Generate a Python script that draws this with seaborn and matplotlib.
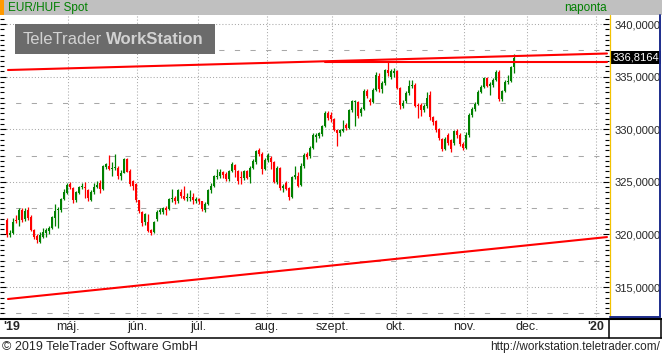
import numpy as np
import matplotlib
matplotlib.use("Agg")
import matplotlib.pyplot as plt
import matplotlib.transforms as mtransforms
from matplotlib.patches import Rectangle
from matplotlib.ticker import MultipleLocator, FuncFormatter
import seaborn as sns

# napi gyertyák EUR/HUF (ápr. - nov. 2019)
open_ = [
    321.35, 319.9, 320.1, 321.35, 321.35, 322.35, 321.5, 322.3, 321.65, 320.45,
    319.85, 319.25, 319.8, 320.1, 320.3, 320.6, 321.6, 322.3, 322.3, 323.4,
    323.95, 324.8, 324.4, 323.25, 323.95, 324.5, 324.5, 324.2, 323.3, 324.0,
    324.5, 324.9, 324.35, 326.4, 326.5, 326.25, 326.3, 326.3, 325.6, 325.85,
    327.15, 326.0, 325.1, 324.8, 323.25, 322.15, 321.2, 321.2, 320.4, 320.25,
    321.45, 322.15, 322.15, 322.55, 322.45, 323.4, 323.45, 323.15, 324.0, 323.7,
    323.45, 323.5, 323.55, 323.15, 323.4, 323.15, 322.3, 322.9, 324.2, 324.65,
    325.45, 325.6, 325.9, 325.75, 325.25, 326.05, 326.6, 326.05, 325.45, 325.35,
    326.0, 325.45, 326.3, 326.9, 328.0, 327.65, 326.2, 327.1, 327.3, 326.85,
    325.0, 326.3, 324.4, 324.9, 324.4, 323.6, 325.45, 325.6, 324.7, 326.5,
    327.6, 327.45, 328.25, 329.3, 329.35, 329.55, 330.3, 331.5, 331.35, 331.0,
    329.9, 329.6, 329.85, 330.4, 330.15, 331.8, 332.6, 332.6, 331.5, 331.95,
    333.6, 332.8, 332.6, 333.75, 335.1, 333.8, 334.35, 335.6, 335.0, 335.3,
    335.5, 333.9, 332.2, 332.65, 333.45, 334.1, 334.25, 332.35, 332.35, 331.8,
    332.2, 333.3, 331.15, 330.8, 330.0, 329.05, 328.1, 329.45, 328.95, 328.65,
    329.8, 329.45, 328.6, 328.2, 329.45, 331.35, 331.9, 332.4, 333.55, 334.0,
    334.85, 334.1, 334.2, 334.7, 335.45, 332.85, 333.6, 334.5, 334.6, 335.9,
]
high = [
    321.55, 320.4, 321.6, 321.8, 322.55, 322.55, 322.5, 322.6, 321.8, 320.5,
    320.0, 320.2, 320.6, 320.6, 320.8, 321.75, 322.9, 322.6, 323.5, 324.3,
    324.9, 325.0, 324.5, 324.1, 324.6, 324.9, 325.0, 324.3, 324.2, 324.9,
    325.05, 325.2, 326.6, 326.8, 327.55, 326.9, 327.6, 326.5, 326.1, 327.3,
    327.3, 326.2, 325.2, 324.9, 323.3, 322.2, 322.0, 321.9, 320.5, 321.3,
    322.3, 322.5, 322.6, 322.7, 323.5, 324.3, 323.7, 324.35, 324.3, 324.6,
    323.9, 324.2, 323.9, 323.6, 323.5, 323.2, 323.1, 324.3, 324.9, 325.65,
    326.2, 326.2, 326.0, 325.9, 326.1, 326.9, 326.7, 326.1, 326.05, 326.1,
    326.1, 326.5, 327.2, 328.05, 328.2, 327.8, 327.3, 327.7, 327.5, 327.0,
    326.5, 326.4, 324.8, 325.1, 324.5, 325.6, 326.5, 325.9, 326.8, 327.7,
    327.8, 328.4, 329.6, 329.6, 329.75, 330.4, 331.7, 331.7, 331.6, 331.1,
    330.0, 330.0, 330.9, 330.6, 331.9, 332.8, 332.8, 332.7, 332.1, 333.8,
    333.8, 333.0, 333.9, 335.4, 335.3, 334.6, 335.7, 336.35, 335.7, 335.8,
    335.6, 334.0, 332.8, 333.6, 334.7, 334.7, 334.4, 332.5, 332.5, 332.4,
    333.5, 333.6, 331.3, 330.9, 330.1, 329.2, 329.3, 329.6, 329.1, 329.9,
    330.0, 329.6, 328.8, 329.7, 331.5, 332.1, 332.6, 333.7, 334.2, 335.0,
    335.0, 334.5, 334.9, 335.6, 335.6, 333.7, 334.7, 335.2, 336.0, 337.15,
]
low = [
    319.75, 319.75, 320.0, 321.1, 320.8, 321.2, 321.3, 321.4, 320.3, 319.6,
    319.2, 319.15, 319.7, 319.8, 320.0, 320.5, 320.8, 320.6, 322.1, 323.3,
    323.8, 324.3, 323.0, 323.1, 323.8, 324.3, 323.5, 323.2, 323.2, 323.8,
    324.4, 323.9, 324.2, 326.2, 326.1, 325.6, 326.1, 325.3, 325.2, 325.8,
    325.9, 324.6, 324.2, 323.1, 322.0, 320.8, 320.9, 320.2, 319.9, 320.1,
    321.3, 321.9, 321.9, 321.8, 322.3, 323.1, 322.9, 323.0, 323.5, 323.3,
    323.2, 323.2, 322.9, 323.0, 322.9, 322.2, 322.1, 322.8, 323.9, 324.5,
    325.3, 325.4, 325.4, 325.1, 325.1, 325.9, 325.5, 324.8, 324.8, 325.2,
    325.3, 324.9, 326.2, 326.7, 327.5, 325.7, 326.1, 326.9, 326.2, 324.9,
    324.8, 324.2, 324.0, 324.2, 323.25, 323.5, 325.3, 324.5, 324.6, 326.3,
    327.2, 327.3, 328.1, 328.8, 329.2, 329.4, 330.2, 330.9, 330.7, 329.8,
    328.45, 329.4, 329.7, 329.9, 330.0, 331.6, 330.3, 331.1, 331.3, 331.8,
    333.0, 332.3, 332.5, 333.6, 333.5, 333.4, 334.2, 335.1, 334.8, 335.0,
    333.8, 331.9, 332.0, 332.5, 333.3, 333.9, 332.1, 331.05, 331.3, 331.6,
    332.0, 330.9, 330.4, 329.7, 329.0, 327.9, 328.0, 328.5, 327.8, 328.5,
    329.2, 328.4, 328.0, 328.1, 329.3, 331.2, 331.7, 332.3, 333.4, 333.9,
    334.0, 333.3, 334.0, 334.6, 332.7, 332.7, 333.5, 334.3, 334.5, 335.35,
]
close_ = [
    319.95, 320.15, 321.2, 321.25, 322.35, 321.4, 322.2, 321.6, 320.4, 319.8,
    319.45, 319.95, 320.25, 320.45, 320.6, 321.65, 322.2, 322.45, 323.4, 324.0,
    324.7, 324.5, 323.25, 324.0, 324.5, 324.6, 324.4, 323.45, 324.0, 324.5,
    324.7, 324.35, 326.5, 326.7, 326.25, 326.3, 326.35, 325.6, 325.85, 327.15,
    325.95, 324.8, 324.65, 323.25, 322.2, 321.05, 321.9, 320.3, 320.1, 321.2,
    322.15, 322.3, 322.55, 322.3, 323.4, 323.45, 323.15, 324.25, 323.7, 323.4,
    323.55, 323.55, 323.25, 323.4, 323.15, 322.4, 322.9, 324.2, 324.65, 325.55,
    325.6, 325.9, 325.65, 325.3, 326.05, 326.7, 326.1, 325.1, 325.35, 326.0,
    325.4, 326.3, 327.0, 327.95, 327.65, 326.2, 327.1, 327.55, 326.85, 325.0,
    326.3, 324.4, 324.6, 324.35, 323.6, 325.45, 325.65, 324.65, 326.5, 327.55,
    327.4, 328.25, 329.45, 329.45, 329.6, 330.3, 331.5, 331.1, 330.95, 329.9,
    329.6, 329.9, 330.0, 330.15, 331.8, 332.65, 332.65, 331.25, 331.95, 333.6,
    333.15, 332.6, 333.75, 335.2, 333.8, 334.4, 335.6, 335.35, 335.5, 335.5,
    333.95, 332.35, 332.5, 333.45, 334.1, 334.25, 332.2, 332.2, 331.8, 332.2,
    333.0, 331.15, 330.65, 329.9, 329.15, 328.1, 329.05, 328.65, 328.1, 329.8,
    329.45, 328.6, 328.2, 329.45, 331.35, 331.9, 332.4, 333.55, 334.0, 334.85,
    334.1, 334.3, 334.7, 335.45, 332.85, 333.6, 334.5, 334.6, 335.9, 336.8164,
]

# hónapok (első kereskedési nap indexe)
month_labels = ["'19", "máj.", "jún.", "júl.", "aug.", "szept.", "okt.", "nov.", "dec.", "'20"]
month_pos = [1.7, 20.33, 43.33, 63.67, 86.67, 108.33, 129.67, 152.33, 173.33, 196.33]

# trendvonalak (kezdő/végpont: index, árfolyam)
upper_x, upper_y = [0.33, 200.0], [335.63, 337.2]
flat_x, flat_y = [106.0, 200.0], [336.36, 336.36]
lower_x, lower_y = [0.33, 200.0], [313.86, 319.75]

title_left = "EUR/HUF Spot"
title_right = "naponta"
footer_left = "© 2019 TeleTrader Software GmbH"
footer_right = "http://workstation.teletrader.com/"

GREEN = "#008000"
RED = "#ff0000"
GRID = "#a8a8a8"

sns.set_style("white")
plt.rcParams['font.family'] = ['Liberation Sans', 'DejaVu Sans']

W, H = 662, 356
fig = plt.figure(figsize=(W / 100, H / 100), dpi=100)


def px_box(x0, y0, x1, y1):
    return [x0 / W, 1 - y1 / H, (x1 - x0) / W, (y1 - y0) / H]


ax = fig.add_axes(px_box(0, 15, 609, 317))
ax.set_facecolor("white")

o = np.array(open_)
c = np.array(close_)
hi = np.array(high)
lo = np.array(low)
idx = np.arange(len(c))
up = c >= o
colors = np.where(up, GREEN, RED)

# gyertyák
ax.vlines(idx, lo, hi, colors=colors, lw=0.9, zorder=3)
body = c - o
body = np.where(np.abs(body) < 0.1, np.where(up, 0.1, -0.1), body)
ax.bar(idx, body, bottom=o, width=0.8, color=colors, linewidth=0, zorder=4,
       antialiased=False)

# trendvonalak
for xs, ys in [(upper_x, upper_y), (flat_x, flat_y), (lower_x, lower_y)]:
    sns.lineplot(x=xs, y=ys, color="red", lw=1.5, ax=ax, zorder=5, legend=False)

ax.set_xlim(-2.33, 200.67)
ax.set_ylim(312.15, 340.86)

# rács
ax.set_xticks(month_pos)
ax.set_xticklabels(month_labels)
ax.yaxis.set_major_locator(MultipleLocator(5))
ax.yaxis.set_minor_locator(MultipleLocator(0.5))
ax.yaxis.set_major_formatter(FuncFormatter(lambda v, p: f"{v:.4f}".replace(".", ",")))
ax.grid(axis="both", which="major", color=GRID, lw=0.75, linestyle=(0, (1, 2)))
ax.get_xgridlines()[0].set_visible(False)
for yv in np.arange(312.5, 340, 5):
    ax.axhline(yv, color=GRID, lw=0.75, linestyle=(0, (5, 10)), zorder=0.5)

ax.tick_params(axis="x", length=0, labelsize=9, pad=3)
ax.tick_params(axis="y", which="both", direction="in", left=True, right=True,
               labelleft=False, labelright=True, color="black", width=0.8)
ax.tick_params(axis="y", which="major", length=4, labelsize=8, pad=4)
ax.tick_params(axis="y", which="minor", length=3)
for lbl in ax.get_xticklabels():
    if lbl.get_text().startswith("'"):
        lbl.set_fontweight("bold")
for s in ax.spines.values():
    s.set_visible(False)

# aktuális árfolyam
trans = mtransforms.blended_transform_factory(ax.transAxes, ax.transData)
ax.text(1.0 + 4 / 609, close_[-1], f"{close_[-1]:.4f}".replace(".", ","), transform=trans,
        ha="left", va="center", fontsize=8, color="white", clip_on=False, zorder=10,
        bbox=dict(boxstyle="square,pad=0.15", facecolor="black", edgecolor="none"))

# keret, fejléc, lábléc
ov = fig.add_axes([0, 0, 1, 1], zorder=5)
ov.set_xlim(0, W)
ov.set_ylim(H, 0)
ov.axis("off")
ov.patch.set_alpha(0)

ov.add_patch(Rectangle((0, 0), W, 15, facecolor="#c0c0c0", edgecolor="none"))
ov.add_patch(Rectangle((0, 0), 4, 15, facecolor="#ff9900", edgecolor="none"))
ov.text(8, 7.5, title_left, color=GREEN, fontsize=8.5, va="center", ha="left")
ov.text(607, 7.5, title_right, color=GREEN, fontsize=8.5, va="center", ha="right")

ov.add_patch(Rectangle((15, 24), 200, 30, facecolor="#6b6b6b", edgecolor="none"))
ov.text(23, 39.5, "TeleTrader", color="#d2d2d2", fontsize=12, va="center", ha="left")
ov.text(106, 39.5, "WorkStation", color="#d2d2d2", fontsize=12, va="center", ha="left",
        fontweight="bold")

ov.plot([610, 610], [15, 317], color="#f2c200", lw=0.9)
ov.plot([660, 660], [15, 317], color="#1c2c8c", lw=1.4)
ov.plot([610, 660], [316.5, 316.5], color="#1c2c8c", lw=1.4)
ov.plot([0, W], [319, 319], color="black", lw=1.5)
ov.plot([0, W], [337.5, 337.5], color="black", lw=1.1)
ov.plot([609, 609], [319, 338], color="black", lw=1.1)
ov.plot([661, 661], [319, 338], color="black", lw=1.1)

ov.text(2, 347, footer_left, fontsize=9, va="center", ha="left")
ov.text(660, 347, footer_right, fontsize=8.5, va="center", ha="right")

fig.savefig("out.png", dpi=100)
